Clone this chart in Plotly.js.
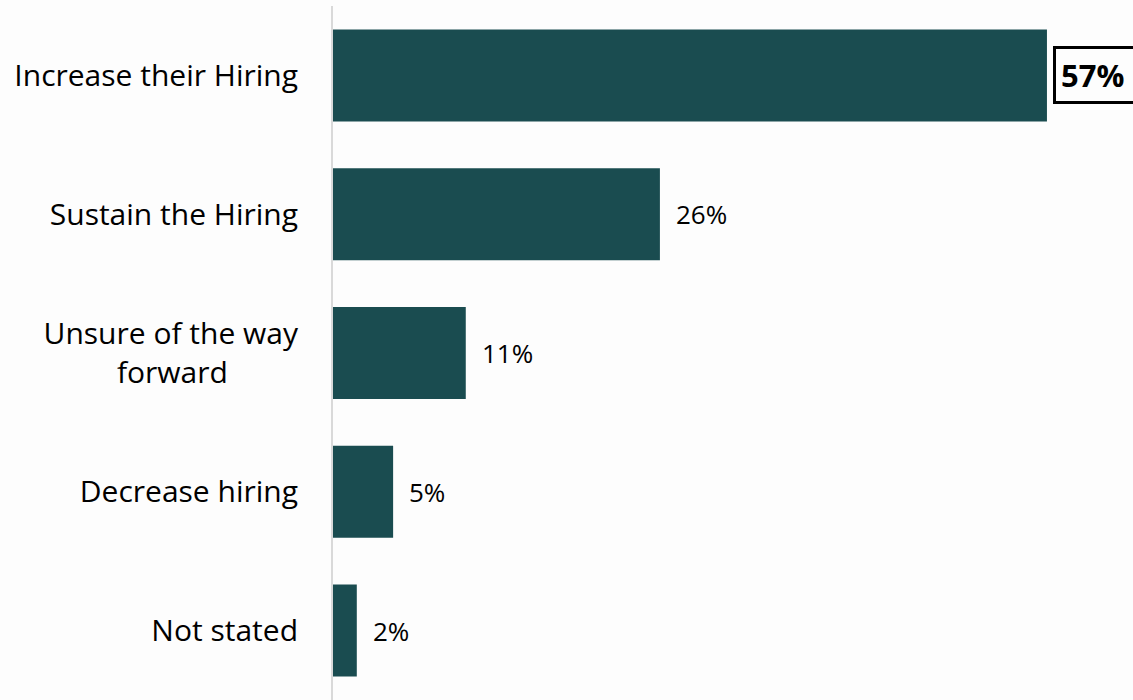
<!DOCTYPE html>
<html>
<head>
<meta charset="utf-8">
<script src="https://cdn.plot.ly/plotly-3.0.1.min.js"></script>
<style>
html,body{margin:0;padding:0;background:#fdfdfd;}
#chart{width:1133px;height:700px;}
</style>
</head>
<body>
<div id="chart"></div>
<script>
const categories = ["Increase their Hiring", "Sustain the Hiring", "Unsure of the way forward", "Decrease hiring", "Not stated"];
const tickLabels = ["Increase their Hiring", "Sustain the Hiring", "Unsure of the way<br>forward\u00A0\u00A0\u00A0\u00A0\u00A0\u00A0\u00A0\u00A0\u00A0", "Decrease hiring", "Not stated"];
const values = [57, 26.1, 10.6, 4.8, 1.9];
const valueLabels = ["57%", "26%", "11%", "5%", "2%"];
const highlight = [true, false, false, false, false];

const barColor = "#1a4c50";

const trace = {
  type: "bar",
  orientation: "h",
  y: categories,
  x: values,
  marker: {color: barColor},
  hoverinfo: "none"
};

const annotations = values.map((v, i) => highlight[i] ? ({
  x: v, y: categories[i], xref: "x", yref: "y",
  text: "<b>" + valueLabels[i] + "\u00A0</b>",
  showarrow: false, xanchor: "left", yanchor: "middle",
  xshift: 6,
  font: {family: "Open Sans", size: 31, color: "#000"},
  bordercolor: "#000", borderwidth: 3, borderpad: 5,
  bgcolor: "#fdfdfd"
}) : ({
  x: v, y: categories[i], xref: "x", yref: "y",
  text: valueLabels[i],
  showarrow: false, xanchor: "left", yanchor: "middle",
  xshift: 14,
  font: {family: "Open Sans", size: 26, color: "#000"}
}));

const layout = {
  width: 1133, height: 700,
  margin: {l: 333, r: 0, t: 6, b: 0},
  paper_bgcolor: "#fdfdfd",
  plot_bgcolor: "#fdfdfd",
  bargap: 0.337,
  showlegend: false,
  xaxis: {range: [0, 63.87], visible: false, fixedrange: true},
  yaxis: {
    type: "category",
    autorange: "reversed",
    tickvals: categories,
    ticktext: tickLabels,
    showline: true, linecolor: "#d9d9d9", linewidth: 2,
    showgrid: false, zeroline: false,
    ticks: "outside", ticklen: 27, tickcolor: "rgba(0,0,0,0)",
    tickfont: {family: "Open Sans", size: 30, color: "#000"}
  },
  annotations: annotations
};

Plotly.newPlot("chart", [trace], layout, {displayModeBar: false, staticPlot: true});
</script>
</body>
</html>
